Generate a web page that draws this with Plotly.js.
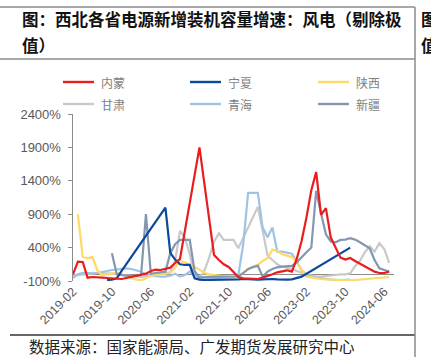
<!DOCTYPE html>
<html><head><meta charset="utf-8">
<script src="https://cdn.plot.ly/plotly-3.0.1.min.js"></script>
<style>html,body{margin:0;padding:0;background:#fff;}#chart{width:431px;height:357px;}</style>
</head><body><div id="chart"></div>
<script>
// ---------- data ----------
const months = [
 "2019-02","2019-03","2019-04","2019-05","2019-06","2019-07","2019-08","2019-09","2019-10","2019-11","2019-12",
 "2020-01","2020-02","2020-03","2020-04","2020-05","2020-06","2020-07","2020-08","2020-09","2020-10","2020-11","2020-12",
 "2021-01","2021-02","2021-03","2021-04","2021-05","2021-06","2021-07","2021-08","2021-09","2021-10","2021-11","2021-12",
 "2022-01","2022-02","2022-03","2022-04","2022-05","2022-06","2022-07","2022-08","2022-09","2022-10","2022-11","2022-12",
 "2023-01","2023-02","2023-03","2023-04","2023-05","2023-06","2023-07","2023-08","2023-09","2023-10","2023-11","2023-12",
 "2024-01","2024-02","2024-03","2024-04","2024-05","2024-06","2024-07","2024-08"];
const tickLabels = ["2019-02","2019-10","2020-06","2021-02","2021-10","2022-06","2023-02","2023-10","2024-06"];
const seriesNames = ["内蒙","宁夏","陕西","甘肃","青海","新疆"];

const neimeng = [0,190,185,-50,-40,-40,-50,-55,-60,-70,-70,
 -55,-40,-30,-10,10,50,70,65,80,100,170,230,
 null,null,null,1900,null,null,290,215,150,110,35,-40,
 -60,-60,-70,-70,-50,-30,0,30,40,60,40,230,
 500,850,1260,1530,890,990,550,400,250,220,245,200,
 160,110,80,40,20,20,40,null];
const ningxia = [null,null,null,null,null,null,null,-85,-80,-60,50,
 null,null,null,null,null,null,null,null,1000,320,220,150,
 140,140,-60,-80,-85,-85,-80,-85,-85,-80,-75,-75,
 -70,-75,-80,-80,-75,-70,-70,-75,-80,-80,-75,-60,
 -35,null,null,null,null,null,null,null,null,null,400,null,
 null,null,null,null,null,null,null,null];
const shaanxi = [null,900,260,240,260,60,-10,0,10,20,0,
 -20,-50,-80,-90,-60,-20,-10,0,10,20,100,200,
 180,150,110,70,20,0,-10,-20,-30,-40,-50,-30,
 20,65,120,140,200,240,370,350,300,280,260,190,
 60,-35,-50,-60,-70,-75,-80,-85,-85,-90,-90,-85,
 -80,-75,-70,-60,-50,-45,-40,null];
const gansu = [-20,-10,0,10,10,20,20,20,10,0,-10,
 -20,-30,-40,-40,-30,-20,-10,0,10,30,200,650,
 550,300,-30,-55,50,250,490,615,515,515,515,390,
 550,700,860,1010,650,280,215,150,115,100,80,50,
 20,0,-20,-35,-35,-30,-20,-10,0,0,15,120,
 200,330,420,340,465,380,170,null];
const qinghai = [-55,0,20,15,15,20,30,50,65,75,85,
 90,80,65,40,-10,-20,-30,-35,-35,-20,10,-35,
 -10,40,-20,-40,-60,-60,-55,-50,-50,-45,-40,-10,
 450,1220,1220,1220,700,555,700,340,340,330,310,190,
 60,0,-35,-50,-60,-70,-80,-85,-85,-80,-80,null,
 null,null,null,null,null,null,null,null];
const xinjiang = [null,null,null,null,null,null,null,null,315,0,-10,
 -20,-30,-20,-10,900,10,20,30,40,315,450,515,
 515,515,50,-50,-40,-35,-35,-35,-35,-35,-30,-30,
 20,80,105,130,-35,40,80,105,115,120,125,180,
 260,330,400,1250,910,600,490,480,515,520,540,520,
 480,440,390,215,90,65,40,null];
const yTicks = [-100,400,900,1400,1900,2400];

const allSeries = [neimeng, ningxia, shaanxi, gansu, qinghai, xinjiang];
const colors = ["#E81E1E","#0B4A9A","#FFD966","#C9C9C9","#9DC3E6","#8497B0"];

// ---------- geometry helpers (plot area in px) ----------
const W = 431, H = 357, L = 73, R = 394, T = 114, B = 281;
const px = x => (x - L) / (R - L);
const py = y => (B - y) / (B - T);

const drawOrder = [3,4,2,5,1,0];
const traces = drawOrder.map(i => ({
  type: "scatter", mode: "lines", name: seriesNames[i],
  x: months, y: allSeries[i], connectgaps: true,
  line: {color: colors[i], width: 2.2}, showlegend: false, hoverinfo: "skip"
}));

const CJK = "Noto Sans CJK SC, sans-serif";
const annotations = [];
const shapes = [];

// title
annotations.push({xref:"paper",yref:"paper",x:px(20),y:py(19),xanchor:"left",yanchor:"middle",showarrow:false,
  text:"图：西北各省电源新增装机容量增速：风电（剔除极",font:{family:CJK,size:16.5,color:"#111",weight:"bold"}});
annotations.push({xref:"paper",yref:"paper",x:px(20),y:py(45),xanchor:"left",yanchor:"middle",showarrow:false,
  text:"值）",font:{family:CJK,size:16.5,color:"#111",weight:"bold"}});
// neighbour panel fragments (cut by the page edge, as in the reference)
annotations.push({xref:"paper",yref:"paper",x:px(419),y:py(19),xanchor:"left",yanchor:"middle",showarrow:false,
  text:"图：",font:{family:CJK,size:16.5,color:"#111",weight:"bold"}});
annotations.push({xref:"paper",yref:"paper",x:px(419),y:py(45),xanchor:"left",yanchor:"middle",showarrow:false,
  text:"值",font:{family:CJK,size:16.5,color:"#111",weight:"bold"}});
// source
annotations.push({xref:"paper",yref:"paper",x:px(27),y:py(345.5),xanchor:"left",yanchor:"middle",showarrow:false,
  text:"数据来源：国家能源局、广发期货发展研究中心",font:{family:CJK,size:15.5,color:"#222"}});

// frame lines
shapes.push({type:"line",xref:"paper",yref:"paper",x0:px(0),x1:px(415),y0:py(7),y1:py(7),line:{color:"#8c8c8c",width:1.5}});
shapes.push({type:"line",xref:"paper",yref:"paper",x0:px(0),x1:px(415),y0:py(59),y1:py(59),line:{color:"#8c8c8c",width:1.5}});
shapes.push({type:"line",xref:"paper",yref:"paper",x0:px(10),x1:px(415),y0:py(335),y1:py(335),line:{color:"#333",width:1.5}});
shapes.push({type:"line",xref:"paper",yref:"paper",x0:px(415),x1:px(415),y0:py(7),y1:py(357),line:{color:"#8c8c8c",width:1.5}});

// legend (manual, 3 columns x 2 rows)
const legCols = [63,190,318], legRows = [82,104];
seriesNames.forEach((nm,i) => {
  const cx = legCols[i%3], cy = legRows[Math.floor(i/3)];
  shapes.push({type:"line",xref:"paper",yref:"paper",x0:px(cx),x1:px(cx+31),y0:py(cy),y1:py(cy),line:{color:colors[i],width:2.4}});
  annotations.push({xref:"paper",yref:"paper",x:px(cx+36),y:py(cy),xanchor:"left",yanchor:"middle",showarrow:false,
    text:nm,font:{family:CJK,size:12,color:"#7f7f7f"}});
});

const layout = {
  width: W, height: H,
  margin: {l: L, r: W - R, t: T, b: H - B},
  paper_bgcolor: "#fff", plot_bgcolor: "#fff",
  showlegend: false,
  xaxis: {
    type: "category", range: [0, months.length - 1],
    tickmode: "array", tickvals: tickLabels, ticktext: tickLabels,
    tickangle: -45, ticks: "", showgrid: false, zeroline: false, showline: false,
    tickfont: {family: "Liberation Sans, Arial, sans-serif", size: 12.5, color: "#595959"}
  },
  yaxis: {
    range: [-100, 2400], tickmode: "array", tickvals: yTicks,
    ticktext: yTicks.map(v => v + "%"),
    showgrid: false, zeroline: true, zerolinecolor: "#8c8c8c", zerolinewidth: 1.5,
    showline: true, linecolor: "#8c8c8c", linewidth: 1.5,
    ticks: "outside", ticklen: 4, tickcolor: "#8c8c8c", ticklabelstandoff: 4,
    tickfont: {family: "Liberation Sans, Arial, sans-serif", size: 13, color: "#595959"}
  },
  annotations, shapes
};
Plotly.newPlot("chart", traces, layout, {staticPlot: true, displayModeBar: false});
</script></body></html>
